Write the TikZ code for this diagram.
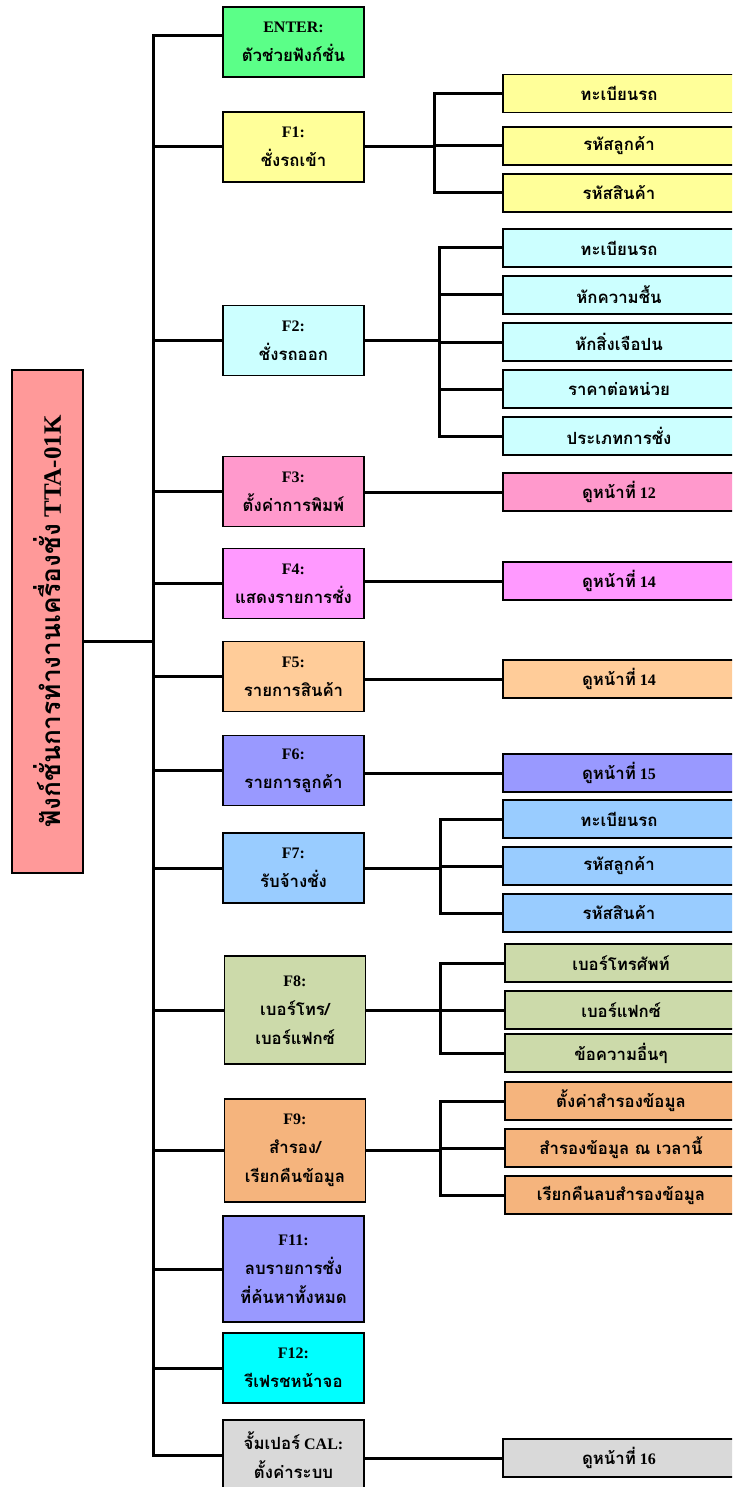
\documentclass[tikz,border=0pt]{standalone}
\usepackage{fontspec}
\setmainfont{Liberation Serif}
\newfontfamily\thaifont[Script=Thai,Scale=1.05]{Loma}
\newcommand\tha[1]{{\thaifont #1}}

\definecolor{ctitle}{HTML}{FF9999}
\definecolor{center}{HTML}{5BFF88}
\definecolor{cfone}{HTML}{FFFF99}
\definecolor{cftwo}{HTML}{CCFFFF}
\definecolor{cfthree}{HTML}{FF99CC}
\definecolor{cffour}{HTML}{FF99FF}
\definecolor{cffive}{HTML}{FFCC99}
\definecolor{cfsix}{HTML}{9999FF}
\definecolor{cfseven}{HTML}{99CCFF}
\definecolor{cfeight}{HTML}{CCDAAA}
\definecolor{cfnine}{HTML}{F5B47D}
\definecolor{cftwelve}{HTML}{00FFFF}
\definecolor{ccal}{HTML}{D9D9D9}

\tikzset{
  fbox/.style={draw, line width=1.5pt, minimum width=141pt, minimum height=70pt,
    inner sep=0pt, align=center, font=\bfseries\fontsize{16}{29}\selectfont},
  sbox/.style={draw, line width=1.5pt, minimum width=232pt, minimum height=38pt,
    inner sep=0pt, font=\bfseries\fontsize{16}{20}\selectfont},
  link/.style={line width=3pt},
}

\begin{document}
\begin{tikzpicture}[x=1pt,y=-1pt]
\useasboundingbox (0,0) rectangle (732,1487);
\clip (0,0) rectangle (732,1487);

% title box, turned upright
\node[draw, line width=2pt, fill=ctitle, minimum width=503pt, minimum height=71pt,
  inner sep=0pt, rotate=90, font=\bfseries\fontsize{25}{30}\selectfont]
  (title) at (47.5,621.5) {\tha{ฟังก์ชั่นการทำงานเครื่องชั่ง} TTA-01K};

% function keys
\node[fbox, fill=center] (enter) at (293.5,42) {ENTER:\\\tha{ตัวช่วยฟังก์ชั่น}};
\node[fbox, fill=cfone] (f1) at (293.5,147) {F1:\\\tha{ชั่งรถเข้า}};
\node[fbox, fill=cftwo] (f2) at (293.5,340.5) {F2:\\\tha{ชั่งรถออก}};
\node[fbox, fill=cfthree] (f3) at (293.5,491.5) {F3:\\\tha{ตั้งค่าการพิมพ์}};
\node[fbox, fill=cffour] (f4) at (293.5,583.5) {F4:\\\tha{แสดงรายการชั่ง}};
\node[fbox, fill=cffive] (f5) at (293.5,676.5) {F5:\\\tha{รายการสินค้า}};
\node[fbox, fill=cfsix] (f6) at (293.5,770.5) {F6:\\\tha{รายการลูกค้า}};
\node[fbox, fill=cfseven] (f7) at (293.5,868) {F7:\\\tha{รับจ้างชั่ง}};
\node[fbox, fill=cfeight, minimum height=108pt] (f8) at (295,1010) {F8:\\\tha{เบอร์โทร/}\\\tha{เบอร์แฟกซ์}};
\node[fbox, fill=cfnine, minimum height=103pt] (f9) at (295,1150.5) {F9:\\\tha{สำรอง/}\\\tha{เรียกคืนข้อมูล}};
\node[fbox, fill=cfsix, minimum height=106pt] (f11) at (293.5,1269) {F11:\\\tha{ลบรายการชั่ง}\\\tha{ที่ค้นหาทั้งหมด}};
\node[fbox, fill=cftwelve] (f12) at (293.5,1368) {F12:\\\tha{รีเฟรชหน้าจอ}};
\node[fbox, fill=ccal, minimum height=71pt] (cal) at (293.5,1455.5) {\tha{จั้มเปอร์} CAL:\\\tha{ตั้งค่าระบบ}};

% sub items
\foreach \n/\y/\t in {f1a/93.5/ทะเบียนรถ, f1b/146/รหัสลูกค้า, f1c/193/รหัสสินค้า}
  \node[sbox, fill=cfone] (\n) at (619,\y) {\tha{\t}};
\foreach \n/\y/\t in {f2a/248/ทะเบียนรถ, f2b/295/หักความชื้น, f2c/342/หักสิ่งเจือปน,
    f2d/389/ราคาต่อหน่วย, f2e/436/ประเภทการชั่ง}
  \node[sbox, fill=cftwo] (\n) at (619,\y) {\tha{\t}};
\node[sbox, fill=cfthree] (f3a) at (619,492) {\tha{ดูหน้าที่} 12};
\node[sbox, fill=cffour] (f4a) at (619,581) {\tha{ดูหน้าที่} 14};
\node[sbox, fill=cffive] (f5a) at (619,679) {\tha{ดูหน้าที่} 14};
\node[sbox, fill=cfsix] (f6a) at (619,773) {\tha{ดูหน้าที่} 15};
\foreach \n/\y/\t in {f7a/819/ทะเบียนรถ, f7b/866/รหัสลูกค้า, f7c/913/รหัสสินค้า}
  \node[sbox, fill=cfseven] (\n) at (619,\y) {\tha{\t}};
\foreach \n/\y/\t in {f8a/963/เบอร์โทรศัพท์, f8b/1010/เบอร์แฟกซ์, f8c/1053/ข้อความอื่นๆ}
  \node[sbox, fill=cfeight] (\n) at (621,\y) {\tha{\t}};
\foreach \n/\y/\t in {f9a/1101/ตั้งค่าสำรองข้อมูล, f9b/1148/สำรองข้อมูล ณ เวลานี้,
    f9c/1195/เรียกคืนลบสำรองข้อมูล}
  \node[sbox, fill=cfnine] (\n) at (621,\y) {\tha{\t}};
\node[sbox, fill=ccal] (cala) at (619,1458) {\tha{ดูหน้าที่} 16};

% trunk
\coordinate (tj) at (153,641);
\draw[link] (tj -| title.south) -- (tj);
\draw[link] ([yshift=6pt]enter.west) -- ([yshift=6pt]enter.west -| tj) -- (cal.west -| tj) -- (cal.west);
\foreach \k in {f1,f2,f3,f4,f5,f6,f7,f8,f9,f11,f12}
  \draw[link] (\k.west) -- (\k.west -| tj);

% brackets to the sub items
\coordinate (bone) at (434,0);
\coordinate (btwo) at (439,0);
\coordinate (bmore) at (440,0);
\draw[link] (f1.east) -- (f1.east -| bone);
\draw[link] (f1a.west) -- (f1a.west -| bone) -- (f1c.west -| bone) -- (f1c.west);
\draw[link] (f1b.west) -- (f1b.west -| bone);
\draw[link] (f2.east) -- (f2.east -| btwo);
\draw[link] (f2a.west) -- (f2a.west -| btwo) -- (f2e.west -| btwo) -- (f2e.west);
\foreach \s in {f2b,f2c,f2d}
  \draw[link] (\s.west) -- (\s.west -| btwo);
\foreach \k in {f7,f8,f9} {
  \draw[link] (\k.east) -- (\k.east -| bmore);
  \draw[link] (\k a.west) -- (\k a.west -| bmore) -- (\k c.west -| bmore) -- (\k c.west);
  \draw[link] (\k b.west) -- (\k b.west -| bmore);
}
\foreach \k in {f3,f4,f5,f6,cal}
  \draw[link] (\k a.west -| \k.east) -- (\k a.west);
\end{tikzpicture}
\end{document}
